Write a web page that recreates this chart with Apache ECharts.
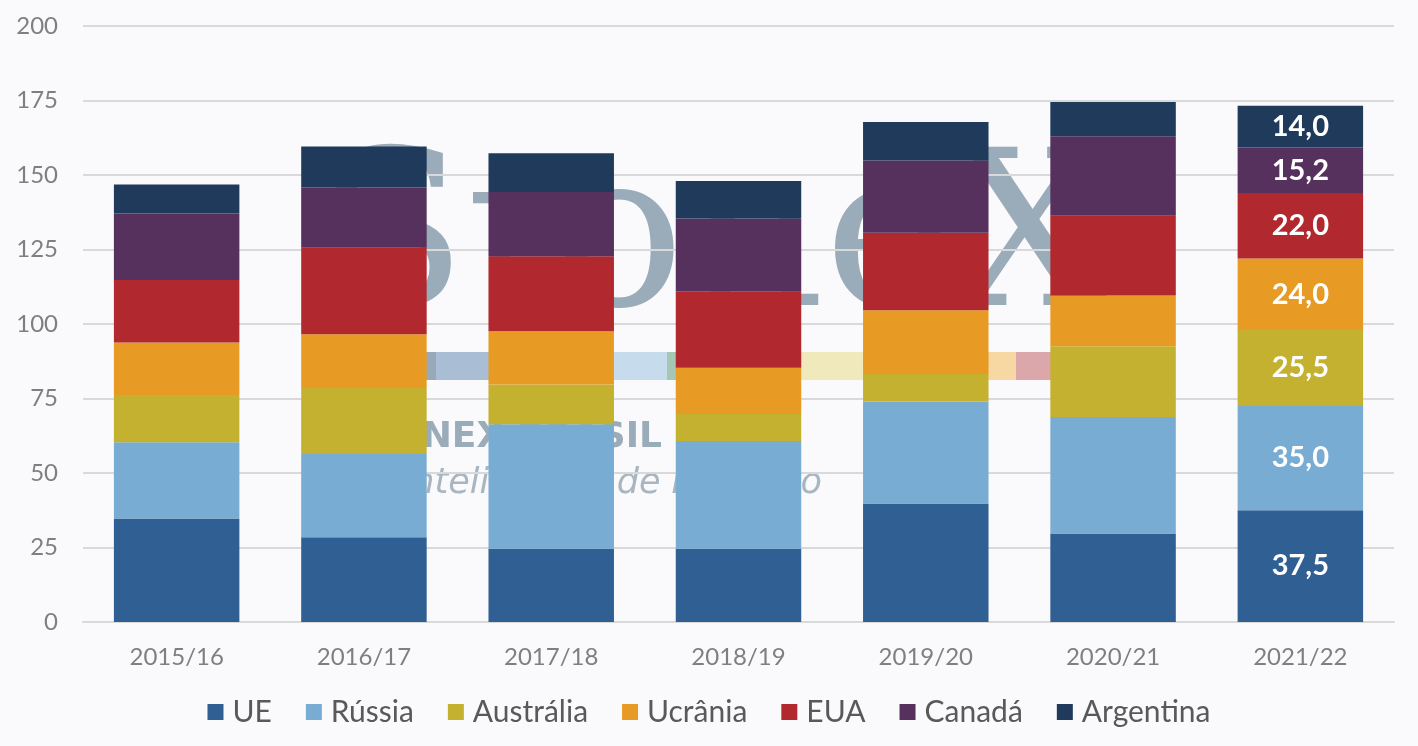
<!DOCTYPE html>
<html>
<head>
<meta charset="utf-8">
<script src="https://cdn.jsdelivr.net/npm/echarts@6/dist/echarts.min.js"></script>
<style>
html,body{margin:0;padding:0;background:#fafafc;}
#c{width:1418px;height:746px;}
</style>
</head>
<body>
<div id="c"></div>
<script>
const categories = ['2015/16','2016/17','2017/18','2018/19','2019/20','2020/21','2021/22'];
const UE        = [34.7, 28.4, 24.6, 24.6, 39.8, 29.7, 37.5];
const Russia    = [25.6, 28.0, 41.8, 36.1, 34.2, 39.1, 35.0];
const Australia = [15.9, 22.1, 13.3, 9.1, 9.2, 23.7, 25.5];
const Ucrania   = [17.6, 18.1, 17.9, 15.5, 21.4, 17.1, 24.0];
const EUA       = [21.0, 29.0, 25.1, 25.7, 26.0, 26.7, 22.0];
const Canada    = [22.3, 20.2, 21.6, 24.4, 24.3, 26.7, 15.2];
const Argentina = [9.7, 13.8, 13.0, 12.6, 12.9, 11.5, 14.0];
const yTicks = [0, 25, 50, 75, 100, 125, 150, 175, 200];

const seriesDefs = [
  ['UE', UE, '#305f93'],
  ['Rússia', Russia, '#79acd3'],
  ['Austrália', Australia, '#c4b12f'],
  ['Ucrânia', Ucrania, '#e79b24'],
  ['EUA', EUA, '#b1292f'],
  ['Canadá', Canada, '#56315e'],
  ['Argentina', Argentina, '#1f3a5a']
];
const FONT = 'Lato, "Open Sans", sans-serif';
const labeledIndex = categories.length - 1;

const chart = echarts.init(document.getElementById('c'));
chart.setOption({
  backgroundColor: '#fafafc',
  animation: false,
  textStyle: { fontFamily: FONT },
  grid: { left: 83, right: 24, top: 26, bottom: 124 },
  graphic: {
    z: -10,
    elements: [
      { type: 'text', z: -10, style: { text: 'StoneX', x: 318, y: 249, textVerticalAlign: 'middle', font: '217px "DejaVu Serif", "Liberation Serif", serif', fill: '#9aabb9' } },
      { type: 'rect', z: -10, shape: { x: 425, y: 352, width: 11, height: 28 }, style: { fill: '#98aab9' } },
      { type: 'rect', z: -10, shape: { x: 436, y: 352, width: 176, height: 28 }, style: { fill: '#a9bdd4' } },
      { type: 'rect', z: -10, shape: { x: 612, y: 352, width: 55, height: 28 }, style: { fill: '#c6dcec' } },
      { type: 'rect', z: -10, shape: { x: 667, y: 352, width: 9, height: 28 }, style: { fill: '#a6c6b6' } },
      { type: 'rect', z: -10, shape: { x: 676, y: 352, width: 312, height: 28 }, style: { fill: '#f0e9bc' } },
      { type: 'rect', z: -10, shape: { x: 988, y: 352, width: 28, height: 28 }, style: { fill: '#f7d8a3' } },
      { type: 'rect', z: -10, shape: { x: 1016, y: 352, width: 40, height: 28 }, style: { fill: '#dca7aa' } },
      { type: 'text', z: -10, style: { text: 'STONEX BRASIL', x: 662, y: 438, textAlign: 'right', textVerticalAlign: 'middle', font: 'bold 36px "DejaVu Sans", "Open Sans", sans-serif', fill: '#9aabb9' } },
      { type: 'text', z: -10, style: { text: 'Inteligência de Mercado', x: 822, y: 484, textAlign: 'right', textVerticalAlign: 'middle', font: 'oblique 200 35px "DejaVu Sans", "Open Sans", sans-serif', fill: '#a8b6c2' } }
    ]
  },
  legend: {
    bottom: 14,
    left: 'center',
    icon: 'rect',
    itemWidth: 16,
    itemHeight: 16,
    itemGap: 34,
    textStyle: { fontSize: 30, color: '#595959', fontFamily: FONT, padding: [0, 0, 0, 4] },
    data: seriesDefs.map(d => d[0])
  },
  xAxis: {
    type: 'category',
    data: categories,
    axisLine: { lineStyle: { color: '#d9d9d9', width: 2 } },
    axisTick: { show: false },
    axisLabel: { fontSize: 24, color: '#7f7f7f', margin: 23, fontFamily: FONT }
  },
  yAxis: {
    type: 'value',
    min: yTicks[0],
    max: yTicks[yTicks.length - 1],
    interval: 25,
    axisLine: { show: false },
    axisTick: { show: false },
    axisLabel: { fontSize: 24, color: '#7f7f7f', margin: 25, fontFamily: FONT },
    splitLine: { lineStyle: { color: '#d9d9d9', width: 2 } }
  },
  series: seriesDefs.map(([name, arr, color]) => ({
    name,
    type: 'bar',
    stack: 'total',
    barCategoryGap: '33%',
    itemStyle: { color },
    label: {
      show: false,
      position: 'inside',
      color: '#ffffff',
      fontWeight: 'bold',
      fontSize: 29,
      fontFamily: FONT,
      formatter: p => p.value.toFixed(1).replace('.', ',')
    },
    data: arr.map((v, i) => i === labeledIndex ? { value: v, label: { show: true } } : v)
  }))
});
</script>
</body>
</html>
